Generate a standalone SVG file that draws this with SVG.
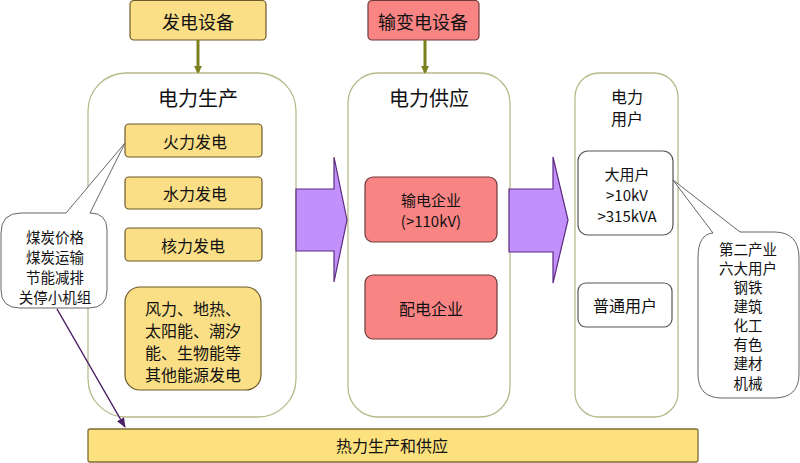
<svg xmlns="http://www.w3.org/2000/svg" width="800" height="463" viewBox="0 0 800 463">
<style>
text{font-family:"Noto Sans CJK SC","Liberation Sans",sans-serif;fill:#111;text-anchor:middle;dominant-baseline:central}
.cont{fill:#fff;stroke:#b9b98c;stroke-width:1.3}
.gold{fill:#fadf86;stroke:#6e5a2a;stroke-width:1.2}
.red{fill:#f98484;stroke:#6e3a3a;stroke-width:1.2}
.white{fill:#fff;stroke:#555;stroke-width:1.2}
.big{fill:#c190fb;stroke:#5e2a80;stroke-width:1.2}
.t16{font-size:16px}
.t15{font-size:15px}
.t18{font-size:18px}
.t20{font-size:20px}
.t14{font-size:14.5px}
</style>
<defs>
<marker id="olive" markerWidth="8" markerHeight="8" refX="6" refY="4" orient="auto" markerUnits="userSpaceOnUse"><path d="M0,0 L8,4 L0,8 Z" fill="#7b7f1e"/></marker>
<marker id="purp" markerWidth="10" markerHeight="10" refX="9" refY="5" orient="auto" markerUnits="userSpaceOnUse"><path d="M0,1 L10,5 L0,9 Z" fill="#4b2066"/></marker>
</defs>

<g id="fadian-shebei">
<rect class="gold" x="130" y="0.5" width="136" height="39.5" rx="4"/>
<text class="t18" x="198" y="21">发电设备</text>
</g>
<g id="shubian-shebei">
<rect class="red" x="368" y="0.5" width="111" height="39.5" rx="4"/>
<text class="t18" x="423" y="21">输变电设备</text>
</g>

<g id="dianli-shengchan">
<rect class="cont" x="88" y="73" width="208" height="344" rx="38"/>
<text class="t20" x="198" y="97">电力生产</text>
</g>
<g id="huoli">
<rect class="gold" x="125" y="124" width="137" height="33" rx="4"/>
<text class="t16" x="195" y="141">火力发电</text>
</g>
<g id="shuili">
<rect class="gold" x="125" y="177" width="137" height="32" rx="4"/>
<text class="t16" x="195" y="193">水力发电</text>
</g>
<g id="heli">
<rect class="gold" x="125" y="228" width="137" height="33" rx="4"/>
<text class="t16" x="193" y="245">核力发电</text>
</g>
<g id="qita">
<rect class="gold" x="125" y="287" width="136" height="103" rx="15"/>
<text class="t16" x="193" y="308">风力、地热、</text>
<text class="t16" x="193" y="330">太阳能、潮汐</text>
<text class="t16" x="193" y="352">能、生物能等</text>
<text class="t16" x="193" y="374">其他能源发电</text>
</g>

<g id="meitan-callout">
<path d="M1,233 Q1,213 21,213 H66 L125,143 L90,213 Q107,213 107,230 V290 Q107,308 89,308 H20 Q1,308 1,290 Z" fill="#fff" stroke="#666" stroke-width="1"/>
<text class="t14" x="55" y="236">煤炭价格</text>
<text class="t14" x="55" y="256">煤炭运输</text>
<text class="t14" x="55" y="276">节能减排</text>
<text class="t14" x="55" y="296">关停小机组</text>
</g>

<g id="dianli-gongying">
<rect class="cont" x="348" y="73" width="162" height="344" rx="30"/>
<text class="t20" x="429" y="97">电力供应</text>
</g>
<g id="shudian">
<rect class="red" x="365" y="177" width="132" height="65" rx="8"/>
<text class="t15" x="431" y="199">输电企业</text>
<text class="t15" x="431" y="220">(&gt;110kV)</text>
</g>
<g id="peidian">
<rect class="red" x="365" y="275" width="132" height="64" rx="8"/>
<text class="t16" x="431" y="308">配电企业</text>
</g>

<g id="dianli-yonghu">
<rect class="cont" x="575" y="73" width="103" height="344" rx="24"/>
<text class="t16" x="627" y="96">电力</text>
<text class="t16" x="627" y="118">用户</text>
</g>
<g id="da-yonghu">
<rect class="white" x="578" y="151" width="95" height="84" rx="10"/>
<text class="t15" x="627" y="173">大用户</text>
<text class="t15" x="627" y="194">&gt;10kV</text>
<text class="t15" x="627" y="215">&gt;315kVA</text>
</g>
<g id="putong-yonghu">
<rect class="white" x="578" y="283" width="94" height="44" rx="8"/>
<text class="t16" x="625" y="305">普通用户</text>
</g>

<g id="hangye-callout">
<path d="M713,233 L673,180 L740,232 H774 Q799,232 799,258 V374 Q799,398 774,398 H722 Q698,398 698,374 V258 Q698,234 713,233 Z" fill="#fff" stroke="#666" stroke-width="1"/>
<text class="t14" x="748" y="248">第二产业</text>
<text class="t14" x="748" y="267">六大用户</text>
<text class="t14" x="748" y="286">钢铁</text>
<text class="t14" x="748" y="305">建筑</text>
<text class="t14" x="748" y="324">化工</text>
<text class="t14" x="748" y="343">有色</text>
<text class="t14" x="748" y="362">建材</text>
<text class="t14" x="748" y="382">机械</text>
</g>

<g id="reli">
<rect x="88" y="429" width="610" height="33" rx="2" fill="#fde17e" stroke="#7d6c34" stroke-width="1.3"/>
<text class="t16" x="392" y="445">热力生产和供应</text>
</g>

<g id="connectors">
<line x1="198" y1="40" x2="198" y2="72" stroke="#7b7f1e" stroke-width="3" marker-end="url(#olive)"/>
<line x1="425" y1="40" x2="425" y2="72" stroke="#7b7f1e" stroke-width="3" marker-end="url(#olive)"/>
<line x1="57" y1="309" x2="125" y2="427" stroke="#4b2066" stroke-width="1.5" marker-end="url(#purp)"/>
<path class="big" d="M296,189 H334 V157 L347,220 L334,282 V251 H296 Z"/>
<path class="big" d="M509,189 H553 V157 L568,220 L553,283 V252 H509 Z"/>
</g>
</svg>
